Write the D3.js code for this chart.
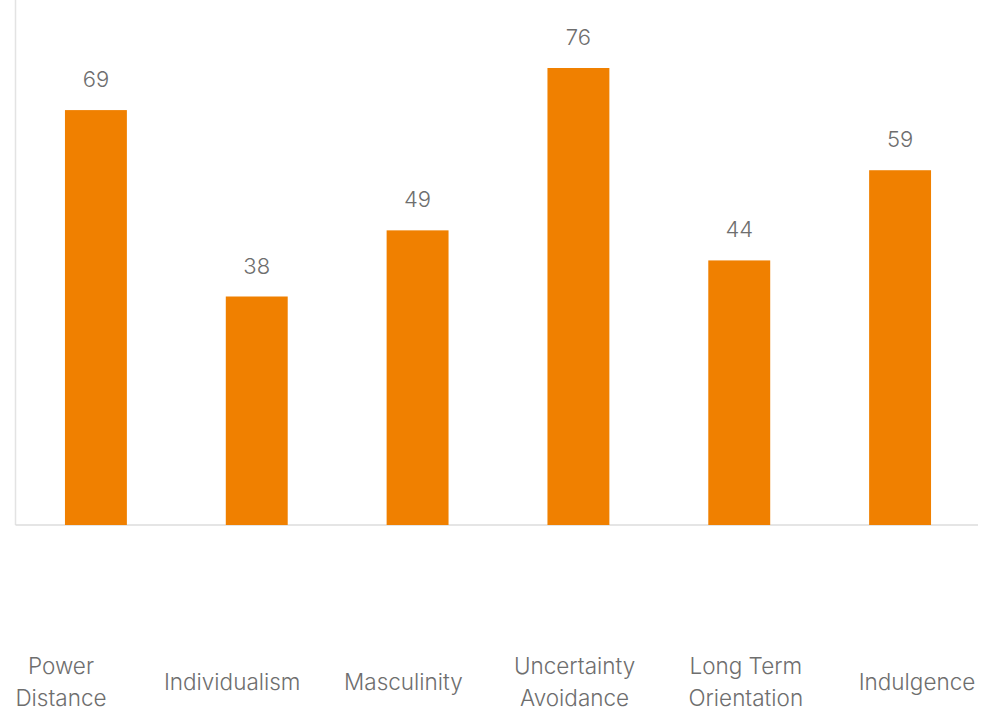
<!DOCTYPE html>
<html><head><meta charset="utf-8">
<script src="https://cdn.jsdelivr.net/npm/d3@7"></script>
<style>body{margin:0;background:#fff;}svg{display:block;}</style>
</head><body>
<svg id="c" width="981" height="712"></svg>
<script>
const categories = [["Power","Distance"],["Individualism"],["Masculinity"],["Uncertainty","Avoidance"],["Long Term","Orientation"],["Indulgence"]];
const values = [69, 38, 49, 76, 44, 59];

const svg = d3.select("#c");
const left = 15.5, right = 980.5, baseY = 525, topY = 68;
const x = d3.scaleBand().domain(d3.range(values.length)).range([left, right]).paddingInner(0.615).paddingOuter(0.3075);
const xl = d3.scalePoint().domain(d3.range(values.length)).range([61, 917]);
const y = d3.scaleLinear().domain([0, 76]).range([baseY, topY]);
const font = "Inter, Roboto, 'DejaVu Sans', sans-serif";

// axis lines
svg.append("line").attr("x1", left).attr("x2", left).attr("y1", 0).attr("y2", baseY).attr("stroke", "#e3e3e3").attr("stroke-width", 1.5);
svg.append("line").attr("x1", left).attr("x2", 978).attr("y1", baseY).attr("y2", baseY).attr("stroke", "#dcdcdc").attr("stroke-width", 1.5);

svg.selectAll("rect.bar").data(values).join("rect").attr("class","bar")
  .attr("x", (d,i)=>x(i)).attr("width", x.bandwidth())
  .attr("y", d=>y(d)).attr("height", d=>baseY - y(d))
  .attr("fill", "#F08000");

svg.selectAll("text.val").data(values).join("text").attr("class","val")
  .attr("x", (d,i)=>x(i)+x.bandwidth()/2).attr("y", d=>y(d)-23)
  .attr("text-anchor","middle").attr("font-family", font).attr("font-size", 22)
  .attr("font-weight", 300).attr("fill", "#6e6e6e").text(d=>d);

const lab = svg.selectAll("text.cat").data(categories).join("text").attr("class","cat")
  .attr("text-anchor","middle").attr("font-family", font).attr("font-size", 22.5)
  .attr("font-weight", 300).attr("fill","#6e6e6e");
lab.each(function(d,i){
  const t = d3.select(this);
  const cx = xl(i);
  const startY = d.length === 1 ? 690 : 674;
  d.forEach((line,j)=>{
    t.append("tspan").attr("x", cx).attr("y", startY + j*32).text(line);
  });
});
</script>
</body></html>
